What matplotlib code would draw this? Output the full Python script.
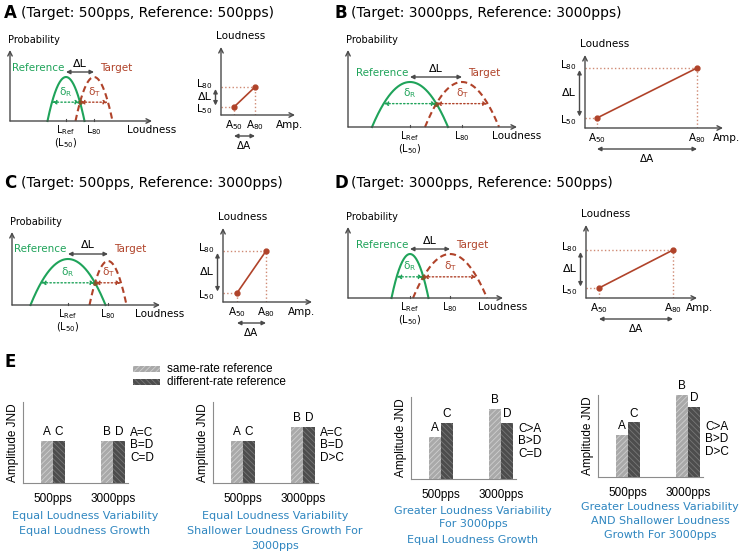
import numpy as np
import matplotlib
matplotlib.use('Agg')
import matplotlib.pyplot as plt
from matplotlib.patches import Rectangle

W, H = 742, 553

GREEN = '#1fa35a'
BROWN = '#b0432a'
DOTTED = '#cf8a74'
GREY = '#4a4a4a'
BLUE = '#2f86c0'
ARIAL = 'Liberation Sans'

# ---- panels A-D: loudness distributions (centre, half width, peak) in loudness units
letters = ['A', 'B', 'C', 'D']
target_rate = ['500pps', '3000pps', '500pps', '3000pps']
reference_rate = ['500pps', '3000pps', '3000pps', '500pps']
ref_centre = [5.6, 6.2, 5.6, 6.2]
ref_halfwidth = [1.85, 3.8, 3.75, 1.85]
ref_peak = [4.4, 4.5, 4.6, 4.4]
tgt_centre = [8.4, 11.4, 9.6, 10.2]
tgt_halfwidth = [1.85, 3.7, 1.85, 3.7]
tgt_peak = [4.4, 4.5, 4.4, 4.4]

# loudness growth: amplitude / loudness at the 50% and 80% points
amp50 = [1.3, 1.2, 1.4, 1.3]
amp80 = [3.4, 11.2, 4.3, 8.7]
loud50 = [0.8, 1.0, 0.9, 1.0]
loud80 = [2.8, 6.0, 5.1, 4.8]

# ---- panel E: amplitude JND for each scenario
groups = ['500pps', '3000pps']
same_rate = [[3, 3], [3, 4], [3, 5], [3, 5.9]]     # A, B
diff_rate = [[3, 3], [3, 4], [4, 4], [3.9, 5]]     # C, D
same_labels = ['A', 'B']
diff_labels = ['C', 'D']
relations = [['A=C', 'B=D', 'C=D'], ['A=C', 'B=D', 'D>C'],
             ['C>A', 'B>D', 'C=D'], ['C>A', 'B>D', 'D>C']]
captions = [['Equal Loudness Variability', 'Equal Loudness Growth'],
            ['Equal Loudness Variability', 'Shallower Loudness Growth For', '3000pps'],
            ['Greater Loudness Variability', 'For 3000pps', 'Equal Loudness Growth'],
            ['Greater Loudness Variability', 'AND Shallower Loudness', 'Growth For 3000pps']]

# ---- layout in pixels (top-left origin); diagram axes use 10 px per unit
title_xy = [(4, 13), (334, 13), (4, 183), (334, 183)]
prob_origin = [(10, 121), (348, 127), (12, 305), (348, 298)]
prob_len = [(14.2, 7.1), (16.9, 7.7), (14.8, 7.3), (15.5, 7.1)]
grow_origin = [(221, 115), (585, 128), (223, 302), (586, 298)]
grow_len = [(7.4, 6.8), (13.8, 7.3), (8.9, 7.4), (11.1, 7.3)]
amp_label_x = [6.9, 14.2, 7.9, 11.4]
bar_boxes = [(23, 402, 128, 483), (213, 402, 318, 483),
             (411, 397, 516, 479), (598, 395, 703, 477)]
caption_dy = [[33, 48], [33, 48, 63], [32, 45, 61], [30, 44, 58]]

plt.rcParams['font.family'] = 'DejaVu Sans'
plt.rcParams['mathtext.fontset'] = 'dejavusans'
plt.rcParams['hatch.linewidth'] = 0.6

fig = plt.figure(figsize=(W / 100, H / 100), dpi=100)


def ftext(x, y, s, **kw):
    fig.text(x / W, 1 - y / H, s, **kw)


def unit_axes(ox, oy, xlen, ylen):
    ax = fig.add_axes([ox / W, 1 - oy / H, xlen * 10 / W, ylen * 10 / H])
    ax.set_xlim(0, xlen)
    ax.set_ylim(0, ylen)
    ax.axis('off')
    return ax


def axis_arrows(ax, xlen, ylen):
    props = dict(arrowstyle='->', color=GREY, lw=1, shrinkA=0, shrinkB=0, mutation_scale=8)
    ax.annotate('', xy=(xlen, 0), xytext=(0, 0), arrowprops=props, annotation_clip=False)
    ax.annotate('', xy=(0, ylen), xytext=(0, 0), arrowprops=props, annotation_clip=False)


def double_arrow(ax, p0, p1, color, ls='-'):
    ax.annotate('', xy=p1, xytext=p0, annotation_clip=False,
                arrowprops=dict(arrowstyle='<|-|>', color=color, lw=1, ls=ls,
                                shrinkA=0, shrinkB=0, mutation_scale=6))


def arch(x, c, hw, peak):
    return np.clip(peak * (1 - ((x - c) / hw) ** 2), 0, None)


def draw_prob(i):
    xlen, ylen = prob_len[i]
    ax = unit_axes(*prob_origin[i], xlen, ylen)
    axis_arrows(ax, xlen, ylen)
    rc, rw, rp = ref_centre[i], ref_halfwidth[i], ref_peak[i]
    tc, tw, tp = tgt_centre[i], tgt_halfwidth[i], tgt_peak[i]

    xr = np.linspace(rc - rw, rc + rw, 200)
    xt = np.linspace(tc - tw, tc + tw, 200)
    ax.plot(xt, arch(xt, tc, tw, tp), color=BROWN, lw=1.5, ls=(0, (3, 1.8)), clip_on=False)
    ax.plot(xr, arch(xr, rc, rw, rp), color=GREEN, lw=1.5, clip_on=False)

    # crossing of the two curves and the widths delta_R / delta_T at that height
    xs = np.linspace(rc, tc, 2000)
    k = np.argmin(np.abs(arch(xs, rc, rw, rp) - arch(xs, tc, tw, tp)))
    xc, yc = xs[k], arch(xs[k], rc, rw, rp)
    xl = rc - rw * np.sqrt(1 - yc / rp)
    xe = tc + tw * np.sqrt(1 - yc / tp)
    double_arrow(ax, (xl, yc), (xc, yc), GREEN, ':')
    double_arrow(ax, (xc, yc), (xe, yc), BROWN, ':')
    ax.plot(xc, yc, 'o', ms=2.5, color='#7a5a2a')
    ax.text((xl + xc) / 2, yc + 0.35, 'δ$_{\\mathrm{R}}$', color=GREEN, fontsize=7.5,
            ha='center', va='bottom')
    ax.text((xc + xe) / 2, yc + 0.35, 'δ$_{\\mathrm{T}}$', color=BROWN, fontsize=7.5,
            ha='center', va='bottom')

    ya = max(rp, tp) + 0.5
    double_arrow(ax, (rc, ya), (tc, ya), GREY)
    ax.text((rc + tc) / 2, ya + 0.35, 'ΔL', fontsize=8, ha='center', va='bottom')
    ax.text(rc - 0.15, ya + 0.45, 'Reference', color=GREEN, fontsize=7.5, ha='right', va='center')
    ax.text(tc + 0.6, ya + 0.45, 'Target', color=BROWN, fontsize=7.5, ha='left', va='center')

    for c in (rc, tc):
        ax.plot([c, c], [0, 0.25], color=GREY, lw=0.8, clip_on=False)
    ax.text(rc, -0.9, 'L$_{\\mathrm{Ref}}$', fontsize=7, ha='center', va='center')
    ax.text(rc, -2.2, '(L$_{50}$)', fontsize=7, ha='center', va='center')
    ax.text(tc, -0.9, 'L$_{80}$', fontsize=7, ha='center', va='center')
    ax.text(xlen, -0.9, 'Loudness', fontsize=7.5, ha='center', va='center')
    ax.text(-0.2, ylen + 1.0, 'Probability', fontsize=7, ha='left', va='center')


def draw_growth(i):
    xlen, ylen = grow_len[i]
    ax = unit_axes(*grow_origin[i], xlen, ylen)
    axis_arrows(ax, xlen, ylen)
    amps = [amp50[i], amp80[i]]
    louds = [loud50[i], loud80[i]]
    for a, l in zip(amps, louds):
        ax.plot([0, a], [l, l], ls=':', color=DOTTED, lw=1)
        ax.plot([a, a], [0, l], ls=':', color=DOTTED, lw=1)
    ax.plot(amps, louds, color=BROWN, lw=1.2, marker='o', ms=3.5, clip_on=False)

    ax.text(-0.8, louds[1] + 0.3, 'L$_{80}$', fontsize=7.5, ha='right', va='center')
    ax.text(-0.8, louds[0] - 0.2, 'L$_{50}$', fontsize=7.5, ha='right', va='center')
    double_arrow(ax, (-0.55, louds[0] + 0.15), (-0.55, louds[1] - 0.2), GREY)
    ax.text(-0.95, sum(louds) / 2, 'ΔL', fontsize=8, ha='right', va='center')

    ax.text(amps[0], -1.0, 'A$_{50}$', fontsize=7.5, ha='center', va='center')
    ax.text(amps[1], -1.0, 'A$_{80}$', fontsize=7.5, ha='center', va='center')
    ax.text(amp_label_x[i], -1.0, 'Amp.', fontsize=7.5, ha='center', va='center')
    double_arrow(ax, (amps[0], -2.1), (amps[1], -2.1), GREY)
    ax.text(sum(amps) / 2, -3.1, 'ΔA', fontsize=7.5, ha='center', va='center')
    ax.text(2.0, ylen + 1.1, 'Loudness', fontsize=7.5, ha='center', va='center')


def draw_bars(i):
    x0, y0, x1, y1 = bar_boxes[i]
    ax = fig.add_axes([x0 / W, 1 - y1 / H, (x1 - x0) / W, (y1 - y0) / H])
    ax.set_xlim(0, 3.5)
    ax.set_ylim(0, (y1 - y0) / 14)
    x = np.array([1.0, 3.0])
    ax.bar(x - 0.2, same_rate[i], 0.37, color='#a9a9a9', edgecolor='#cfcfcf',
           hatch='//////', lw=0)
    ax.bar(x + 0.2, diff_rate[i], 0.37, color='#4d4d4d', edgecolor='#777777',
           hatch='\\\\\\\\\\\\', lw=0)
    for k in range(2):
        ax.text(x[k] - 0.2, same_rate[i][k] + 0.2, same_labels[k], fontsize=8.5,
                family=ARIAL, ha='center', va='bottom')
        ax.text(x[k] + 0.2, diff_rate[i][k] + 0.2, diff_labels[k], fontsize=8.5,
                family=ARIAL, ha='center', va='bottom')
    for k, rel in enumerate(relations[i]):
        ax.text(3.57, 3.6 - 0.9 * k, rel, fontsize=8.5, family=ARIAL, ha='left',
                va='center', clip_on=False)
    for s in ('top', 'right'):
        ax.spines[s].set_visible(False)
    for s in ('left', 'bottom'):
        ax.spines[s].set_color('#8c8c8c')
    ax.set_yticks([])
    ax.set_xticks(x, groups, fontsize=8.5, family=ARIAL)
    ax.tick_params(axis='x', length=0, pad=7)
    ax.set_ylabel('Amplitude JND', fontsize=8.5, family=ARIAL, labelpad=3)
    for line, dy in zip(captions[i], caption_dy[i]):
        ftext(x0 + 62, y1 + dy, line, color=BLUE, fontsize=8, ha='center', va='center')


if __name__ == '__main__':
    for i in range(4):
        tx, ty = title_xy[i]
        ftext(tx, ty, letters[i], fontsize=12, weight='bold', va='center')
        ftext(tx + 17, ty, '(Target: %s, Reference: %s)' % (target_rate[i], reference_rate[i]),
              fontsize=10, va='center')
        draw_prob(i)
        draw_growth(i)

    ftext(4, 362, 'E', fontsize=12, weight='bold', va='center')
    legend_items = [('same-rate reference', '#a9a9a9', '#cfcfcf', '//////'),
                    ('different-rate reference', '#4d4d4d', '#777777', '\\\\\\\\\\\\')]
    for k, (name, fc, ec, hatch) in enumerate(legend_items):
        yy = 369 + 13 * k
        fig.add_artist(Rectangle((133 / W, 1 - (yy + 3) / H), 27 / W, 6 / H,
                                 transform=fig.transFigure, facecolor=fc,
                                 edgecolor=ec, hatch=hatch, lw=0))
        ftext(167, yy, name, fontsize=8.5, family=ARIAL, va='center')

    for i in range(4):
        draw_bars(i)

    fig.savefig('out.png', dpi=100)
